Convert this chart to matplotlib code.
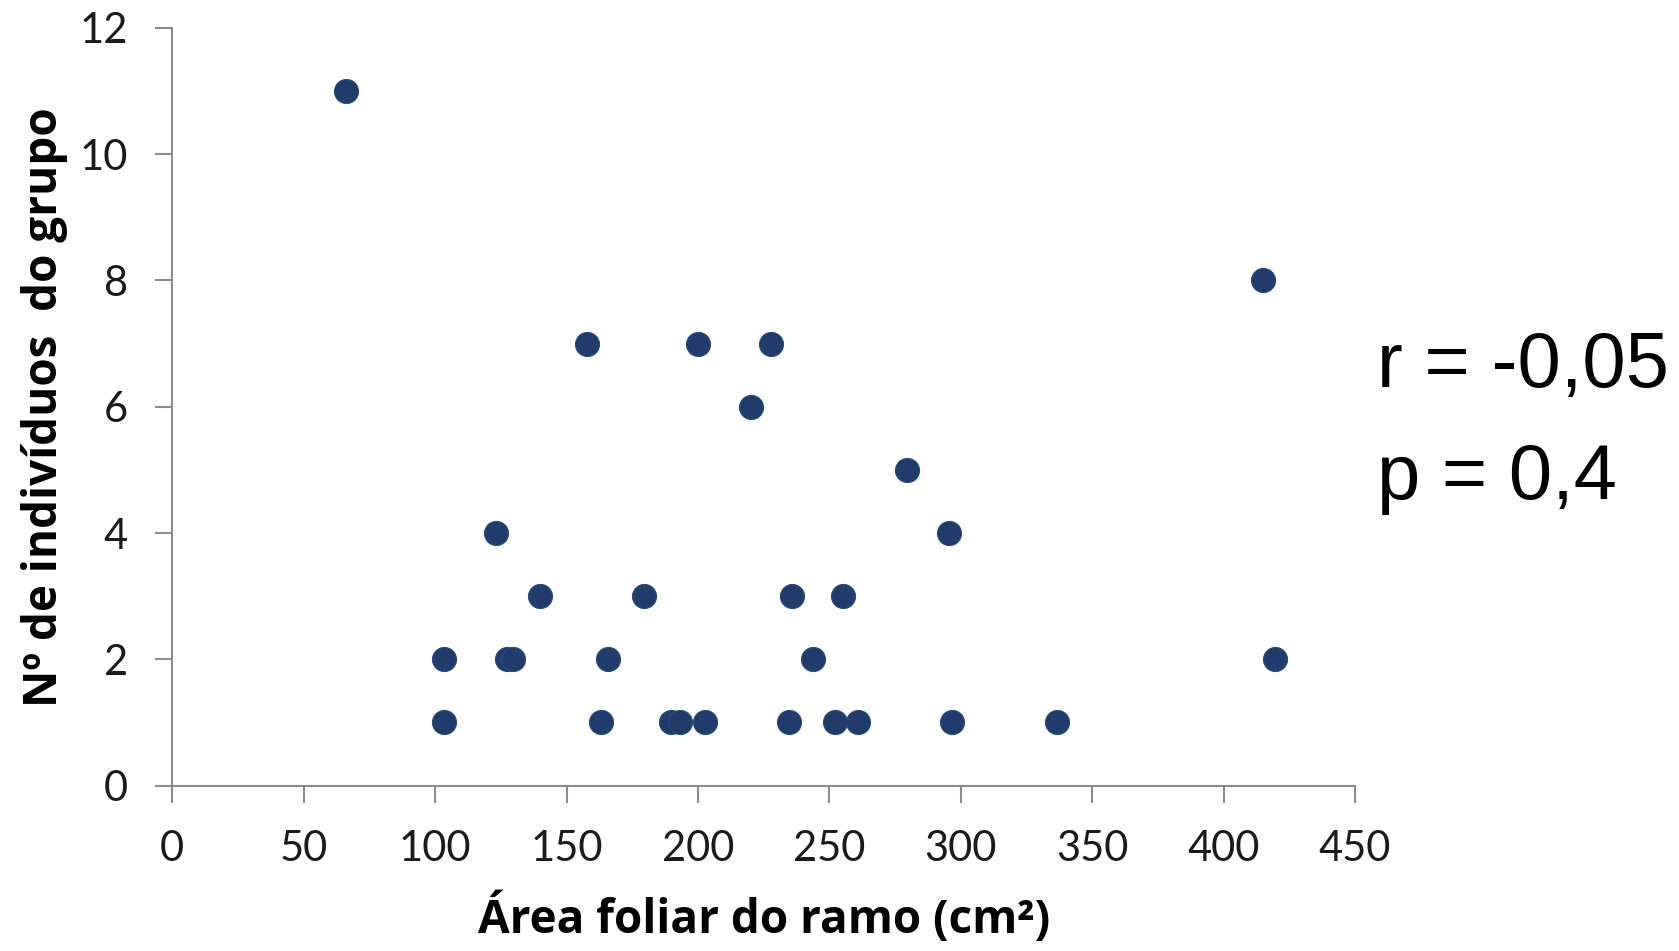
import matplotlib
matplotlib.use("Agg")
import matplotlib.pyplot as plt

area = [66.1, 103.2, 103.2, 123.2, 127.3, 129.7, 140.0, 157.9, 163.2, 165.6,
        179.5, 189.7, 193.0, 199.9, 202.8, 220.3, 227.7, 234.6, 235.8, 243.6,
        252.1, 255.0, 260.7, 279.5, 295.4, 296.6, 336.6, 414.9, 419.4]
individuos = [11, 2, 1, 4, 2, 2, 3, 7, 1, 2,
              3, 1, 1, 7, 1, 6, 7, 1, 3, 2,
              1, 3, 1, 5, 4, 1, 1, 8, 2]
xticks = [0, 50, 100, 150, 200, 250, 300, 350, 400, 450]
yticks = [0, 2, 4, 6, 8, 10, 12]
xlabel = "Área foliar do ramo (cm²)"
ylabel = "Nº de indivíduos  do grupo"
stats = ["r = -0,05", "p = 0,4"]

fig = plt.figure(figsize=(16.79, 9.51), dpi=100)
ax = fig.add_axes([0.1026, 0.174, 0.7045, 0.7966])
ax.scatter(area, individuos, s=300, color="#1f3c6b", edgecolors="#2a4a7a",
           linewidths=0.8, zorder=3, clip_on=False)
ax.set_xlim(0, 450)
ax.set_ylim(0, 12)
ax.set_xticks(xticks)
ax.set_yticks(yticks)
for s in ["top", "right"]:
    ax.spines[s].set_visible(False)
for s in ["left", "bottom"]:
    ax.spines[s].set_color("#8c8c8c")
    ax.spines[s].set_linewidth(1.5)
ax.tick_params(axis="both", direction="out", length=12, width=1.5, color="#8c8c8c",
               labelsize=30, labelcolor="#1a1a1a")
ax.tick_params(axis="x", pad=20)
ax.tick_params(axis="y", pad=20)
for lab in ax.get_xticklabels() + ax.get_yticklabels():
    lab.set_family("Lato")
ax.set_xlabel(xlabel, fontsize=33, fontweight="bold", family="Open Sans", labelpad=18)
ax.set_ylabel(ylabel, fontsize=33, fontweight="bold", family="Open Sans", labelpad=8)

fig.text(0.82, 0.593, stats[0], fontsize=56, family="Liberation Sans", color="black")
fig.text(0.82, 0.475, stats[1], fontsize=56, family="Liberation Sans", color="black")

fig.savefig("out.png", dpi=100)
